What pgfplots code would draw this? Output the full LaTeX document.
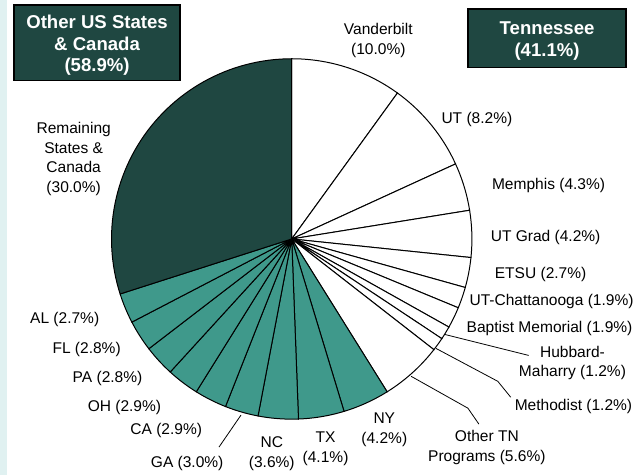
\documentclass[border=0pt]{standalone}
\usepackage{pgfplots}
\pgfplotsset{compat=1.18}
\usepackage{pgfplotstable}
\usepackage{fontspec}
\setmainfont{Liberation Sans}
\definecolor{darkg}{HTML}{1F4741}
\definecolor{tealg}{HTML}{3F998B}
\definecolor{stripc}{HTML}{E0F1F1}

\pgfplotstableread[col sep=comma]{
label,value,fillc
Vanderbilt,10.0,white
UT,8.2,white
Memphis,4.3,white
UT Grad,4.2,white
ETSU,2.7,white
UT-Chattanooga,1.9,white
Baptist Memorial,1.9,white
Hubbard-Maharry,1.2,white
Methodist,1.2,white
Other TN Programs,5.6,white
NY,4.2,tealg
TX,4.1,tealg
NC,3.6,tealg
GA,3.0,tealg
CA,2.9,tealg
OH,2.9,tealg
PA,2.8,tealg
FL,2.8,tealg
AL,2.7,tealg
Remaining States and Canada,30.0,darkg
}\piedata

\newcommand\lbl{\fontsize{11.7}{14.8}\selectfont}
\newcommand\boxf{\bfseries\fontsize{14}{16.2}\selectfont}
\tikzset{lab/.style={align=center, font=\lbl, yshift=-2.7pt},
  boxt/.style={align=center, font=\boxf, text=white, yshift=-1.9pt}}

\begin{document}
\begin{tikzpicture}
\begin{axis}[scale only axis, width=478.5pt, height=357.75pt,
  xmin=0, xmax=638, ymin=0, ymax=477, hide axis, clip=false]
\fill[white] (axis cs:0,0) rectangle (axis cs:638,477);
\fill[stripc] (axis cs:0,0) rectangle (axis cs:7,477);
\pgfmathsetmacro\cum{0}
\pgfplotstablegetrowsof{\piedata}
\pgfmathtruncatemacro\nrows{\pgfplotsretval-1}
\pgfplotsforeachungrouped \i in {0,...,\nrows}{%
  \pgfplotstablegetelem{\i}{value}\of\piedata \let\sliceval\pgfplotsretval
  \pgfplotstablegetelem{\i}{fillc}\of\piedata \let\slicecol\pgfplotsretval
  \pgfmathsetmacro\aA{90-\cum/100.2*360}%
  \pgfmathsetmacro\aB{90-(\cum+\sliceval)/100.2*360}%
  \edef\temp{\noexpand\addplot[fill=\slicecol,draw=black,line width=0.75pt,domain=\aB:\aA,samples=60] ({293+181*cos(x)},{237+181*sin(x)}) -- (axis cs:293,237) -- cycle;}%
  \temp
  \pgfmathsetmacro\cum{\cum+\sliceval}%
}
% leader lines
\addplot[black, line width=0.6pt] coordinates {(447,141) (531,120)};
\addplot[black, line width=0.6pt] coordinates {(438,127) (500,94) (513,78)};
\addplot[black, line width=0.6pt] coordinates {(413,99) (470,67) (481,51)};
\addplot[black, line width=0.6pt] coordinates {(242,60) (220,28)};
% labels
\node[lab] at (axis cs:380,440) {Vanderbilt\\(10.0\%)};
\node[lab] at (axis cs:479,361) {UT (8.2\%)};
\node[lab] at (axis cs:551,294) {Memphis (4.3\%)};
\node[lab] at (axis cs:548,242) {UT Grad (4.2\%)};
\node[lab] at (axis cs:543,205) {ETSU (2.7\%)};
\node[lab] at (axis cs:554,178) {UT-Chattanooga (1.9\%)};
\node[lab] at (axis cs:552,151) {Baptist Memorial (1.9\%)};
\node[lab] at (axis cs:575,116) {Hubbard-\\Maharry (1.2\%)};
\node[lab] at (axis cs:576,72) {Methodist (1.2\%)};
\node[lab] at (axis cs:489,31) {Other TN\\Programs (5.6\%)};
\node[lab] at (axis cs:386,49) {NY\\(4.2\%)};
\node[lab] at (axis cs:327,30) {TX\\(4.1\%)};
\node[lab] at (axis cs:273,25) {NC\\(3.6\%)};
\node[lab] at (axis cs:188,15) {GA (3.0\%)};
\node[lab] at (axis cs:167,48) {CA (2.9\%)};
\node[lab] at (axis cs:125,71) {OH (2.9\%)};
\node[lab] at (axis cs:108,100) {PA (2.8\%)};
\node[lab] at (axis cs:87,130) {FL (2.8\%)};
\node[lab] at (axis cs:65,160) {AL (2.7\%)};
\node[lab] at (axis cs:74,321) {Remaining\\States \&\\Canada\\(30.0\%)};
% boxes
\draw[fill=darkg, draw=black, line width=1.2pt] (axis cs:14,472) rectangle (axis cs:181,396);
\node[boxt] at (axis cs:97.5,434) {Other US States\\\& Canada\\(58.9\%)};
\draw[fill=darkg, draw=black, line width=1.2pt] (axis cs:470,468) rectangle (axis cs:629,409);
\node[boxt] at (axis cs:549.5,438.5) {Tennessee\\(41.1\%)};
\end{axis}
\end{tikzpicture}
\end{document}
